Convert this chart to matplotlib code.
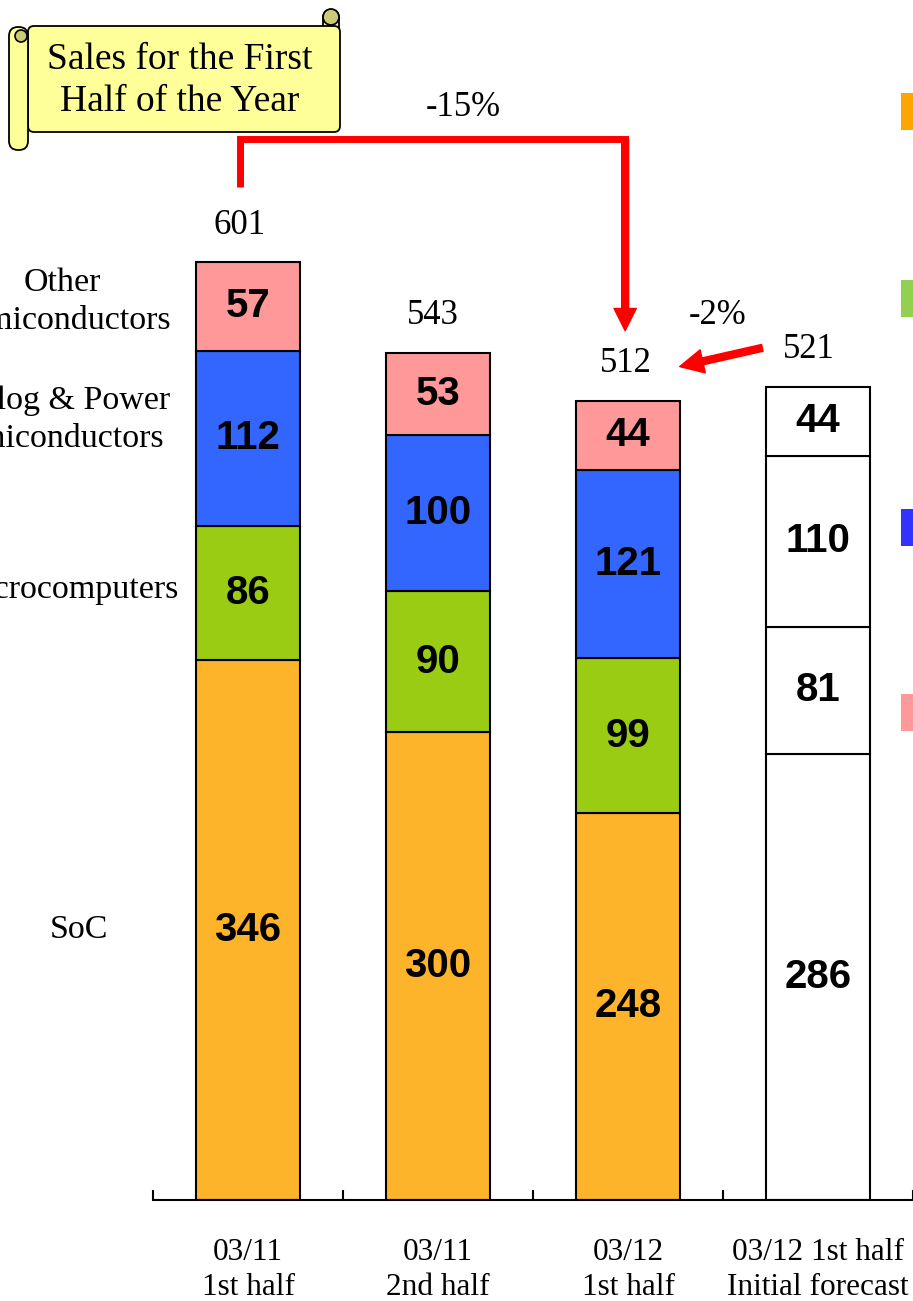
import matplotlib.pyplot as plt
from matplotlib.patches import Rectangle, FancyBboxPatch, Circle
from matplotlib.transforms import Affine2D

# semiconductor sales by period (billions of yen)
periods = ['03/11\n1st half', '03/11\n2nd half', '03/12\n1st half',
           '03/12 1st half\nInitial forecast']
segments = ['SoC', 'Microcomputers', 'Analog & Power\nSemiconductors',
            'Other\nSemiconductors']
soc = [346, 300, 248, 286]
micro = [86, 90, 99, 81]
analog = [112, 100, 121, 110]
other = [57, 53, 44, 44]
change_year = '-15%'
change_forecast = '-2%'

seg_colors = ['#FDB42B', '#99CC13', '#3366FF', '#FF9999']
legend_colors = ['#FFA500', '#92D050', '#3333FF', '#FF9999']

W, H = 913, 1301
fig = plt.figure(figsize=(W / 100, H / 100), dpi=100)
fig.patch.set_facecolor('white')

# pixel coordinates, origin top-left
px = Affine2D().scale(1 / W, -1 / H).translate(0, 1) + fig.transFigure

ax = fig.add_axes([153 / W, 101 / H, 760 / W, 1200 / H])
ax.set_xlim(-0.5, -0.5 + 760 / 190.8)
ax.set_ylim(0, 1200 / 1.5607)
ax.patch.set_alpha(0)

serif = 'Liberation Serif'
sans = 'Liberation Sans'

values = [soc, micro, analog, other]
x = list(range(len(periods)))
bottoms = [0] * len(periods)
for vals, c in zip(values, seg_colors):
    faces = [c] * (len(periods) - 1) + ['white']
    ax.bar(x, vals, bottom=bottoms, width=0.55, color=faces,
           edgecolor='black', linewidth=1.5, zorder=2)
    for i, v in enumerate(vals):
        ax.text(i, bottoms[i] + v / 2, str(v), ha='center', va='center',
                family=sans, fontweight='bold', fontsize=29, zorder=3)
    bottoms = [b + v for b, v in zip(bottoms, vals)]
totals = bottoms

total_dx = [-8, -5, -2, -9]
for i, t in enumerate(totals):
    ax.annotate(str(t), (i, t), xytext=(total_dx[i], 37),
                textcoords='offset pixels', ha='center', va='center',
                family=serif, fontsize=25)

# segment names beside the first bar
mids = []
b = 0
for vals in values:
    mids.append(b + vals[0] / 2)
    b += vals[0]
label_x = [-0.888, -0.956, -1.014, -0.977]
label_nudge = [0, 2, 12, 3]
for name, m, lx, dn in zip(segments, mids, label_x, label_nudge):
    ax.text(lx, m + dn, name, ha='center', va='center', family=serif,
            fontsize=24.5, linespacing=1.3, clip_on=False)

# axis
for s in ['top', 'right', 'left']:
    ax.spines[s].set_visible(False)
ax.spines['bottom'].set_linewidth(1.5)
ax.set_yticks([])
ax.set_xticks(x)
ax.set_xticklabels(periods, family=serif, fontsize=22.5, linespacing=1.3)
ax.tick_params(axis='x', which='major', length=0, pad=27)
ax.set_xticks([-0.5, 0.5, 1.5, 2.5, 3.5], minor=True)
ax.tick_params(axis='x', which='minor', direction='in', length=7, width=1.5)

# year-on-year bracket
red = '#FF0000'
x1, x3 = -0.04, 1.985
top = 680
ax.plot([x1, x1, x3, x3], [totals[0] + 48, top, top, top - 8], color=red,
        lw=5, solid_joinstyle='miter', solid_capstyle='butt', zorder=4)
ax.annotate('', xy=(x3, totals[2] + 45), xytext=(x3, top),
            arrowprops=dict(color=red, width=5, headwidth=16, headlength=16,
                            shrink=0), zorder=4)
ax.text(1.135, 700, change_year, ha='center', va='center', family=serif,
        fontsize=25)

# forecast comparison arrow
ax.annotate('', xy=(2.272, totals[2] + 22), xytext=(2.707, totals[3] + 25),
            arrowprops=dict(color=red, width=5, headwidth=17, headlength=17,
                            shrink=0), zorder=4)
ax.text(2.47, 567, change_forecast, ha='center', va='center', family=serif,
        fontsize=25)

# legend swatches at the right edge
for c, y0 in zip(legend_colors, [93, 280, 509, 694]):
    fig.patches.append(Rectangle((901, y0), 37, 37, transform=px,
                                 facecolor=c, edgecolor='none'))

# scroll banner
yellow = '#FFFF99'
dark = '#CCCC77'
fig.patches.append(FancyBboxPatch((323, 10), 16, 40,
                                  boxstyle='round,pad=0,rounding_size=8',
                                  transform=px, facecolor=yellow,
                                  edgecolor='black', lw=1.3))
fig.patches.append(Circle((331, 17), 8, transform=px, facecolor=dark,
                          edgecolor='black', lw=1.3))
fig.patches.append(FancyBboxPatch((28, 26), 312, 106,
                                  boxstyle='round,pad=0,rounding_size=6',
                                  transform=px, facecolor=yellow,
                                  edgecolor='black', lw=1.3))
fig.patches.append(FancyBboxPatch((9, 27), 19, 123,
                                  boxstyle='round,pad=0,rounding_size=9',
                                  transform=px, facecolor=yellow,
                                  edgecolor='black', lw=1.3))
fig.patches.append(Circle((21, 36), 6, transform=px, facecolor=dark,
                          edgecolor='black', lw=1.2))
fig.text(180 / W, 1 - 81 / H, 'Sales for the First\nHalf of the Year',
         ha='center', va='center', family=serif, fontsize=27,
         linespacing=1.3)

fig.savefig('out.png', dpi=100)
